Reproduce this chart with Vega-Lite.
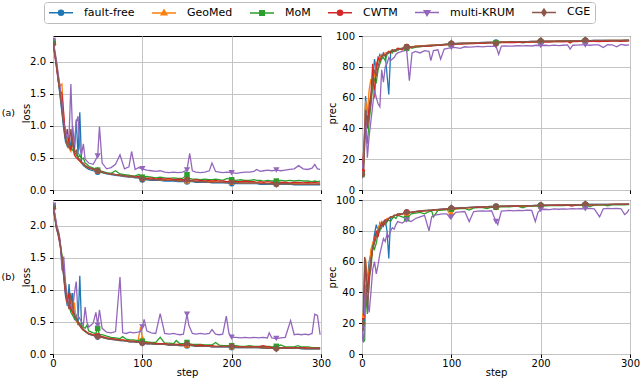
{
"$schema":"https://vega.github.io/schema/vega-lite/v6.json",
"padding":{"left":0,"top":1,"right":0,"bottom":0},
"datasets":{
"aL":[
{"step":0,"ff":2.30,"gm":2.28,"mom":2.31,"cw":2.29,"mk":2.33,"cge":2.27},
{"step":2,"ff":2.12,"gm":2.15,"mom":2.14,"cw":2.10,"mk":2.18,"cge":2.13},
{"step":4,"ff":1.92,"gm":1.98,"mom":1.95,"cw":1.90,"mk":2.00,"cge":1.94},
{"step":6,"ff":1.70,"gm":1.75,"mom":1.72,"cw":1.68,"mk":1.80,"cge":1.72},
{"step":8,"ff":1.45,"gm":1.62,"mom":1.50,"cw":1.55,"mk":1.60,"cge":1.48},
{"step":10,"ff":1.20,"gm":1.65,"mom":1.30,"cw":1.50,"mk":1.35,"cge":1.25},
{"step":12,"ff":0.95,"gm":1.10,"mom":1.05,"cw":1.20,"mk":1.05,"cge":1.00},
{"step":14,"ff":0.75,"gm":0.85,"mom":0.90,"cw":0.80,"mk":0.95,"cge":0.80},
{"step":16,"ff":0.68,"gm":0.70,"mom":0.75,"cw":0.95,"mk":0.80,"cge":0.70},
{"step":18,"ff":0.85,"gm":0.65,"mom":0.70,"cw":0.72,"mk":0.85,"cge":0.66},
{"step":20,"ff":0.62,"gm":0.60,"mom":0.68,"cw":0.62,"mk":1.65,"cge":0.95},
{"step":22,"ff":1.00,"gm":0.75,"mom":0.62,"cw":0.85,"mk":0.85,"cge":0.70},
{"step":24,"ff":0.60,"gm":0.55,"mom":0.58,"cw":0.55,"mk":0.70,"cge":0.58},
{"step":26,"ff":1.10,"gm":0.60,"mom":0.55,"cw":0.50,"mk":1.05,"cge":0.62},
{"step":28,"ff":0.55,"gm":0.48,"mom":0.50,"cw":0.48,"mk":1.15,"cge":0.50},
{"step":30,"ff":1.21,"gm":0.45,"mom":0.55,"cw":0.45,"mk":0.65,"cge":0.48},
{"step":32,"ff":0.42,"gm":0.42,"mom":0.48,"cw":0.42,"mk":0.55,"cge":0.44},
{"step":34,"ff":0.38,"gm":0.40,"mom":0.50,"cw":0.42,"mk":0.72,"cge":0.40},
{"step":36,"ff":0.36,"gm":0.37,"mom":0.42,"cw":0.38,"mk":0.48,"cge":0.38},
{"step":38,"ff":0.34,"gm":0.36,"mom":0.40,"cw":0.36,"mk":0.45,"cge":0.36},
{"step":40,"ff":0.32,"gm":0.34,"mom":0.37,"cw":0.35,"mk":0.42,"cge":0.34},
{"step":45,"ff":0.30,"gm":0.32,"mom":0.34,"cw":0.33,"mk":0.40,"cge":0.32},
{"step":50,"ff":0.28,"gm":0.30,"mom":0.31,"cw":0.30,"mk":0.53,"cge":0.30},
{"step":52,"ff":0.28,"gm":0.29,"mom":0.30,"cw":0.29,"mk":0.99,"cge":0.29},
{"step":55,"ff":0.27,"gm":0.28,"mom":0.29,"cw":0.28,"mk":0.42,"cge":0.28},
{"step":60,"ff":0.25,"gm":0.26,"mom":0.27,"cw":0.26,"mk":0.33,"cge":0.26},
{"step":65,"ff":0.24,"gm":0.25,"mom":0.26,"cw":0.25,"mk":0.35,"cge":0.25},
{"step":70,"ff":0.23,"gm":0.24,"mom":0.30,"cw":0.24,"mk":0.40,"cge":0.24},
{"step":75,"ff":0.22,"gm":0.23,"mom":0.25,"cw":0.23,"mk":0.55,"cge":0.23},
{"step":80,"ff":0.21,"gm":0.22,"mom":0.24,"cw":0.22,"mk":0.33,"cge":0.22},
{"step":85,"ff":0.20,"gm":0.21,"mom":0.23,"cw":0.21,"mk":0.36,"cge":0.21},
{"step":88,"ff":0.20,"gm":0.21,"mom":0.22,"cw":0.22,"mk":0.60,"cge":0.21},
{"step":92,"ff":0.19,"gm":0.20,"mom":0.22,"cw":0.20,"mk":0.32,"cge":0.20},
{"step":96,"ff":0.19,"gm":0.20,"mom":0.24,"cw":0.21,"mk":0.35,"cge":0.19},
{"step":100,"ff":0.16,"gm":0.18,"mom":0.20,"cw":0.19,"mk":0.33,"cge":0.17},
{"step":105,"ff":0.16,"gm":0.18,"mom":0.21,"cw":0.18,"mk":0.31,"cge":0.17},
{"step":110,"ff":0.15,"gm":0.17,"mom":0.20,"cw":0.19,"mk":0.30,"cge":0.16},
{"step":115,"ff":0.15,"gm":0.17,"mom":0.19,"cw":0.17,"mk":0.29,"cge":0.16},
{"step":120,"ff":0.15,"gm":0.16,"mom":0.20,"cw":0.18,"mk":0.30,"cge":0.16},
{"step":125,"ff":0.14,"gm":0.16,"mom":0.19,"cw":0.17,"mk":0.28,"cge":0.15},
{"step":130,"ff":0.14,"gm":0.16,"mom":0.18,"cw":0.18,"mk":0.27,"cge":0.15},
{"step":135,"ff":0.14,"gm":0.15,"mom":0.19,"cw":0.16,"mk":0.28,"cge":0.15},
{"step":140,"ff":0.13,"gm":0.15,"mom":0.18,"cw":0.17,"mk":0.27,"cge":0.14},
{"step":145,"ff":0.13,"gm":0.15,"mom":0.18,"cw":0.16,"mk":0.28,"cge":0.14},
{"step":150,"ff":0.13,"gm":0.14,"mom":0.24,"cw":0.16,"mk":0.31,"cge":0.16},
{"step":153,"ff":0.13,"gm":0.14,"mom":0.18,"cw":0.15,"mk":0.57,"cge":0.14},
{"step":156,"ff":0.13,"gm":0.14,"mom":0.17,"cw":0.15,"mk":0.30,"cge":0.14},
{"step":160,"ff":0.12,"gm":0.14,"mom":0.17,"cw":0.16,"mk":0.28,"cge":0.13},
{"step":165,"ff":0.12,"gm":0.13,"mom":0.16,"cw":0.15,"mk":0.27,"cge":0.13},
{"step":170,"ff":0.12,"gm":0.13,"mom":0.17,"cw":0.14,"mk":0.28,"cge":0.13},
{"step":175,"ff":0.12,"gm":0.13,"mom":0.16,"cw":0.15,"mk":0.30,"cge":0.12},
{"step":178,"ff":0.11,"gm":0.13,"mom":0.16,"cw":0.14,"mk":0.42,"cge":0.12},
{"step":182,"ff":0.11,"gm":0.13,"mom":0.17,"cw":0.15,"mk":0.29,"cge":0.12},
{"step":186,"ff":0.11,"gm":0.12,"mom":0.16,"cw":0.14,"mk":0.28,"cge":0.12},
{"step":190,"ff":0.11,"gm":0.12,"mom":0.15,"cw":0.14,"mk":0.27,"cge":0.12},
{"step":195,"ff":0.11,"gm":0.12,"mom":0.18,"cw":0.13,"mk":0.28,"cge":0.11},
{"step":200,"ff":0.10,"gm":0.12,"mom":0.16,"cw":0.14,"mk":0.27,"cge":0.12},
{"step":205,"ff":0.10,"gm":0.12,"mom":0.15,"cw":0.13,"mk":0.26,"cge":0.11},
{"step":210,"ff":0.10,"gm":0.11,"mom":0.16,"cw":0.13,"mk":0.27,"cge":0.11},
{"step":215,"ff":0.10,"gm":0.11,"mom":0.15,"cw":0.14,"mk":0.28,"cge":0.11},
{"step":220,"ff":0.10,"gm":0.11,"mom":0.15,"cw":0.13,"mk":0.28,"cge":0.11},
{"step":225,"ff":0.10,"gm":0.11,"mom":0.16,"cw":0.13,"mk":0.29,"cge":0.11},
{"step":228,"ff":0.10,"gm":0.11,"mom":0.15,"cw":0.12,"mk":0.32,"cge":0.11},
{"step":232,"ff":0.09,"gm":0.11,"mom":0.15,"cw":0.13,"mk":0.29,"cge":0.10},
{"step":236,"ff":0.09,"gm":0.11,"mom":0.14,"cw":0.12,"mk":0.30,"cge":0.10},
{"step":240,"ff":0.09,"gm":0.10,"mom":0.15,"cw":0.13,"mk":0.31,"cge":0.10},
{"step":245,"ff":0.09,"gm":0.10,"mom":0.14,"cw":0.12,"mk":0.30,"cge":0.10},
{"step":250,"ff":0.09,"gm":0.10,"mom":0.14,"cw":0.12,"mk":0.31,"cge":0.09},
{"step":255,"ff":0.09,"gm":0.10,"mom":0.15,"cw":0.12,"mk":0.30,"cge":0.10},
{"step":260,"ff":0.09,"gm":0.10,"mom":0.14,"cw":0.12,"mk":0.31,"cge":0.10},
{"step":265,"ff":0.09,"gm":0.10,"mom":0.15,"cw":0.11,"mk":0.32,"cge":0.10},
{"step":270,"ff":0.08,"gm":0.10,"mom":0.14,"cw":0.12,"mk":0.33,"cge":0.09},
{"step":275,"ff":0.08,"gm":0.10,"mom":0.15,"cw":0.12,"mk":0.38,"cge":0.09},
{"step":280,"ff":0.08,"gm":0.09,"mom":0.14,"cw":0.11,"mk":0.33,"cge":0.09},
{"step":285,"ff":0.08,"gm":0.10,"mom":0.14,"cw":0.12,"mk":0.32,"cge":0.09},
{"step":290,"ff":0.08,"gm":0.09,"mom":0.13,"cw":0.11,"mk":0.34,"cge":0.09},
{"step":293,"ff":0.08,"gm":0.09,"mom":0.14,"cw":0.12,"mk":0.40,"cge":0.09},
{"step":296,"ff":0.08,"gm":0.09,"mom":0.13,"cw":0.11,"mk":0.33,"cge":0.09},
{"step":299,"ff":0.08,"gm":0.09,"mom":0.14,"cw":0.11,"mk":0.32,"cge":0.09}
],
"aP":[
{"step":0,"ff":10,"gm":11,"mom":10,"cw":12,"mk":9,"cge":10},
{"step":2,"ff":20,"gm":25,"mom":18,"cw":26,"mk":24,"cge":11},
{"step":4,"ff":61,"gm":58,"mom":40,"cw":45,"mk":50,"cge":52},
{"step":6,"ff":45,"gm":50,"mom":30,"cw":40,"mk":21,"cge":42},
{"step":8,"ff":50,"gm":65,"mom":45,"cw":55,"mk":35,"cge":48},
{"step":10,"ff":60,"gm":72,"mom":55,"cw":62,"mk":45,"cge":58},
{"step":12,"ff":70,"gm":65,"mom":68,"cw":82,"mk":55,"cge":72},
{"step":14,"ff":85,"gm":75,"mom":72,"cw":60,"mk":65,"cge":78},
{"step":16,"ff":78,"gm":82,"mom":70,"cw":80,"mk":60,"cge":74},
{"step":18,"ff":85,"gm":84,"mom":78,"cw":86,"mk":56,"cge":80},
{"step":20,"ff":88,"gm":86,"mom":82,"cw":84,"mk":54,"cge":85},
{"step":22,"ff":86,"gm":88,"mom":85,"cw":87,"mk":78,"cge":86},
{"step":24,"ff":89,"gm":87,"mom":86,"cw":88,"mk":70,"cge":88},
{"step":26,"ff":88,"gm":89,"mom":84,"cw":87,"mk":80,"cge":87},
{"step":28,"ff":75,"gm":89,"mom":88,"cw":89,"mk":82,"cge":89},
{"step":30,"ff":62,"gm":90,"mom":89,"cw":90,"mk":86,"cge":89},
{"step":32,"ff":89,"gm":90,"mom":90,"cw":89,"mk":84,"cge":90},
{"step":34,"ff":90,"gm":91,"mom":89,"cw":91,"mk":85,"cge":91},
{"step":36,"ff":91,"gm":90,"mom":91,"cw":90,"mk":86,"cge":90},
{"step":38,"ff":91,"gm":91,"mom":90,"cw":91,"mk":88,"cge":91},
{"step":40,"ff":91,"gm":92,"mom":91,"cw":92,"mk":89,"cge":91},
{"step":45,"ff":92,"gm":92,"mom":92,"cw":91,"mk":90,"cge":92},
{"step":50,"ff":93,"gm":93,"mom":92,"cw":93,"mk":91,"cge":92.5},
{"step":53,"ff":93,"gm":93,"mom":93,"cw":92,"mk":71,"cge":93},
{"step":56,"ff":93,"gm":93,"mom":92,"cw":93,"mk":89,"cge":93},
{"step":60,"ff":93.2,"gm":93.5,"mom":92.8,"cw":93.0,"mk":90,"cge":93.2},
{"step":65,"ff":93.5,"gm":93.6,"mom":93.0,"cw":93.3,"mk":89,"cge":93.4},
{"step":70,"ff":93.7,"gm":93.8,"mom":93.4,"cw":93.2,"mk":90.5,"cge":93.6},
{"step":75,"ff":93.9,"gm":94.0,"mom":93.5,"cw":93.6,"mk":90,"cge":93.8},
{"step":77,"ff":94.0,"gm":94.0,"mom":93.6,"cw":93.5,"mk":84,"cge":93.9},
{"step":80,"ff":94.1,"gm":94.2,"mom":93.8,"cw":93.8,"mk":90.5,"cge":94.0},
{"step":85,"ff":94.3,"gm":94.3,"mom":94.0,"cw":93.9,"mk":91,"cge":94.2},
{"step":88,"ff":94.4,"gm":94.4,"mom":94.1,"cw":94.0,"mk":85,"cge":94.3},
{"step":92,"ff":94.6,"gm":94.5,"mom":94.3,"cw":94.2,"mk":91.5,"cge":94.5},
{"step":96,"ff":94.8,"gm":94.7,"mom":94.5,"cw":94.3,"mk":92,"cge":94.7},
{"step":100,"ff":95.0,"gm":94.8,"mom":94.6,"cw":94.5,"mk":92.5,"cge":95.5},
{"step":105,"ff":95.2,"gm":95.0,"mom":94.8,"cw":94.7,"mk":92.5,"cge":95.1},
{"step":110,"ff":95.3,"gm":95.2,"mom":94.9,"cw":94.8,"mk":92,"cge":95.2},
{"step":115,"ff":95.4,"gm":95.3,"mom":95.0,"cw":94.9,"mk":93,"cge":95.3},
{"step":120,"ff":95.5,"gm":95.4,"mom":95.1,"cw":95.0,"mk":92.8,"cge":95.4},
{"step":125,"ff":95.6,"gm":95.5,"mom":95.2,"cw":95.1,"mk":93,"cge":95.5},
{"step":130,"ff":95.7,"gm":95.6,"mom":95.3,"cw":95.2,"mk":93.2,"cge":95.6},
{"step":135,"ff":95.8,"gm":95.7,"mom":95.3,"cw":95.3,"mk":93,"cge":95.7},
{"step":140,"ff":95.9,"gm":95.8,"mom":95.5,"cw":95.4,"mk":93.3,"cge":95.8},
{"step":145,"ff":96.0,"gm":95.9,"mom":95.6,"cw":95.5,"mk":93.2,"cge":95.9},
{"step":150,"ff":96.0,"gm":96.0,"mom":95.5,"cw":95.5,"mk":93.5,"cge":95.0},
{"step":153,"ff":96.1,"gm":96.0,"mom":95.7,"cw":95.6,"mk":88,"cge":96.0},
{"step":156,"ff":96.1,"gm":96.1,"mom":95.8,"cw":95.7,"mk":93.4,"cge":96.1},
{"step":160,"ff":96.2,"gm":96.1,"mom":95.9,"cw":95.7,"mk":93.6,"cge":96.2},
{"step":165,"ff":96.2,"gm":96.2,"mom":95.8,"cw":95.8,"mk":93.4,"cge":96.2},
{"step":170,"ff":96.3,"gm":96.2,"mom":96.0,"cw":95.7,"mk":93.5,"cge":96.3},
{"step":175,"ff":96.3,"gm":96.3,"mom":96.0,"cw":95.9,"mk":93.8,"cge":96.3},
{"step":180,"ff":96.4,"gm":96.3,"mom":95.6,"cw":95.9,"mk":93.6,"cge":96.4},
{"step":185,"ff":96.4,"gm":96.4,"mom":96.1,"cw":96.0,"mk":93.8,"cge":96.4},
{"step":190,"ff":96.5,"gm":96.4,"mom":96.2,"cw":96.0,"mk":93.5,"cge":96.5},
{"step":195,"ff":96.5,"gm":96.5,"mom":96.2,"cw":96.1,"mk":94.0,"cge":96.5},
{"step":200,"ff":96.6,"gm":96.5,"mom":96.3,"cw":96.1,"mk":93.8,"cge":97.0},
{"step":205,"ff":96.6,"gm":96.5,"mom":96.3,"cw":96.2,"mk":94.0,"cge":96.6},
{"step":210,"ff":96.7,"gm":96.6,"mom":96.3,"cw":96.0,"mk":93.7,"cge":96.7},
{"step":215,"ff":96.7,"gm":96.6,"mom":96.4,"cw":96.3,"mk":94.1,"cge":96.7},
{"step":220,"ff":96.8,"gm":96.7,"mom":96.4,"cw":96.3,"mk":93.8,"cge":96.8},
{"step":225,"ff":96.8,"gm":96.7,"mom":96.5,"cw":96.2,"mk":94.0,"cge":96.8},
{"step":230,"ff":96.8,"gm":96.7,"mom":96.5,"cw":96.4,"mk":94.2,"cge":96.8},
{"step":233,"ff":96.9,"gm":96.8,"mom":96.5,"cw":95.5,"mk":91.5,"cge":96.9},
{"step":236,"ff":96.9,"gm":96.8,"mom":96.6,"cw":96.4,"mk":94.0,"cge":96.9},
{"step":240,"ff":96.9,"gm":96.8,"mom":96.6,"cw":96.4,"mk":94.1,"cge":96.9},
{"step":245,"ff":97.0,"gm":96.9,"mom":96.6,"cw":96.5,"mk":94.3,"cge":97.0},
{"step":250,"ff":97.0,"gm":96.9,"mom":96.7,"cw":96.5,"mk":94.2,"cge":97.6},
{"step":255,"ff":97.0,"gm":96.9,"mom":96.7,"cw":96.5,"mk":94.0,"cge":97.0},
{"step":260,"ff":97.1,"gm":97.0,"mom":96.7,"cw":96.6,"mk":94.3,"cge":97.1},
{"step":265,"ff":97.1,"gm":97.0,"mom":96.8,"cw":96.4,"mk":94.2,"cge":97.1},
{"step":270,"ff":97.1,"gm":97.0,"mom":96.8,"cw":96.6,"mk":92.5,"cge":97.1},
{"step":275,"ff":97.2,"gm":97.1,"mom":96.8,"cw":96.6,"mk":94.4,"cge":97.2},
{"step":280,"ff":97.2,"gm":97.1,"mom":96.9,"cw":96.7,"mk":94.3,"cge":97.2},
{"step":285,"ff":97.2,"gm":97.1,"mom":96.9,"cw":96.7,"mk":93.0,"cge":97.2},
{"step":290,"ff":97.2,"gm":97.1,"mom":96.9,"cw":96.5,"mk":94.5,"cge":97.2},
{"step":295,"ff":97.3,"gm":97.2,"mom":96.9,"cw":96.7,"mk":94.0,"cge":97.3},
{"step":299,"ff":97.3,"gm":97.2,"mom":97.0,"cw":96.8,"mk":94.3,"cge":97.3}
],
"bL":[
{"step":0,"ff":2.30,"gm":2.28,"mom":2.31,"cw":2.29,"mk":2.32,"cge":2.27},
{"step":2,"ff":2.15,"gm":2.18,"mom":2.15,"cw":2.14,"mk":2.20,"cge":2.12},
{"step":4,"ff":1.95,"gm":2.00,"mom":1.98,"cw":1.96,"mk":2.02,"cge":1.95},
{"step":6,"ff":1.85,"gm":1.88,"mom":1.90,"cw":1.84,"mk":1.92,"cge":1.90},
{"step":8,"ff":1.70,"gm":1.75,"mom":1.72,"cw":1.70,"mk":1.78,"cge":1.72},
{"step":10,"ff":1.45,"gm":1.50,"mom":1.55,"cw":1.48,"mk":1.30,"cge":1.50},
{"step":12,"ff":1.20,"gm":1.25,"mom":1.30,"cw":1.22,"mk":1.52,"cge":1.25},
{"step":14,"ff":0.90,"gm":1.00,"mom":1.10,"cw":0.95,"mk":1.10,"cge":1.00},
{"step":16,"ff":0.75,"gm":0.80,"mom":0.85,"cw":0.80,"mk":0.85,"cge":0.85},
{"step":18,"ff":1.09,"gm":0.70,"mom":0.75,"cw":0.95,"mk":0.80,"cge":0.70},
{"step":20,"ff":0.65,"gm":0.90,"mom":0.65,"cw":0.70,"mk":0.75,"cge":0.95},
{"step":22,"ff":0.95,"gm":0.60,"mom":0.60,"cw":0.65,"mk":0.70,"cge":0.75},
{"step":24,"ff":0.55,"gm":0.80,"mom":0.55,"cw":0.60,"mk":0.95,"cge":0.60},
{"step":26,"ff":0.60,"gm":0.50,"mom":0.52,"cw":0.55,"mk":1.13,"cge":0.55},
{"step":28,"ff":0.45,"gm":0.48,"mom":0.50,"cw":0.50,"mk":0.60,"cge":0.48},
{"step":30,"ff":1.22,"gm":0.44,"mom":0.48,"cw":0.45,"mk":0.55,"cge":0.44},
{"step":32,"ff":0.42,"gm":0.40,"mom":0.45,"cw":0.42,"mk":0.50,"cge":0.40},
{"step":34,"ff":0.38,"gm":0.37,"mom":0.42,"cw":0.38,"mk":0.45,"cge":0.37},
{"step":36,"ff":0.35,"gm":0.35,"mom":0.40,"cw":0.36,"mk":0.73,"cge":0.35},
{"step":38,"ff":0.33,"gm":0.33,"mom":0.45,"cw":0.34,"mk":0.50,"cge":0.33},
{"step":40,"ff":0.31,"gm":0.32,"mom":0.36,"cw":0.32,"mk":0.42,"cge":0.31},
{"step":45,"ff":0.29,"gm":0.30,"mom":0.33,"cw":0.30,"mk":0.48,"cge":0.29},
{"step":48,"ff":0.28,"gm":0.29,"mom":0.32,"cw":0.29,"mk":0.65,"cge":0.28},
{"step":50,"ff":0.27,"gm":0.28,"mom":0.40,"cw":0.28,"mk":0.45,"cge":0.27},
{"step":52,"ff":0.27,"gm":0.28,"mom":0.30,"cw":0.27,"mk":0.69,"cge":0.27},
{"step":55,"ff":0.26,"gm":0.27,"mom":0.30,"cw":0.27,"mk":0.40,"cge":0.26},
{"step":60,"ff":0.24,"gm":0.25,"mom":0.28,"cw":0.25,"mk":0.34,"cge":0.24},
{"step":65,"ff":0.23,"gm":0.24,"mom":0.26,"cw":0.24,"mk":0.33,"cge":0.23},
{"step":70,"ff":0.22,"gm":0.23,"mom":0.25,"cw":0.23,"mk":0.35,"cge":0.22},
{"step":75,"ff":0.21,"gm":0.22,"mom":0.24,"cw":0.22,"mk":1.20,"cge":0.21},
{"step":78,"ff":0.21,"gm":0.22,"mom":0.27,"cw":0.22,"mk":0.33,"cge":0.21},
{"step":82,"ff":0.20,"gm":0.21,"mom":0.23,"cw":0.21,"mk":0.32,"cge":0.20},
{"step":86,"ff":0.19,"gm":0.20,"mom":0.22,"cw":0.20,"mk":0.34,"cge":0.19},
{"step":90,"ff":0.19,"gm":0.20,"mom":0.22,"cw":0.20,"mk":0.33,"cge":0.19},
{"step":95,"ff":0.18,"gm":0.19,"mom":0.21,"cw":0.19,"mk":0.34,"cge":0.18},
{"step":98,"ff":0.18,"gm":0.42,"mom":0.22,"cw":0.19,"mk":0.35,"cge":0.20},
{"step":100,"ff":0.17,"gm":0.25,"mom":0.20,"cw":0.18,"mk":0.42,"cge":0.17},
{"step":102,"ff":0.17,"gm":0.20,"mom":0.19,"cw":0.18,"mk":0.54,"cge":0.17},
{"step":105,"ff":0.16,"gm":0.18,"mom":0.19,"cw":0.17,"mk":0.36,"cge":0.16},
{"step":110,"ff":0.16,"gm":0.17,"mom":0.18,"cw":0.17,"mk":0.33,"cge":0.16},
{"step":115,"ff":0.15,"gm":0.17,"mom":0.18,"cw":0.16,"mk":0.32,"cge":0.15},
{"step":120,"ff":0.15,"gm":0.16,"mom":0.26,"cw":0.16,"mk":0.63,"cge":0.15},
{"step":125,"ff":0.15,"gm":0.16,"mom":0.17,"cw":0.16,"mk":0.32,"cge":0.15},
{"step":130,"ff":0.14,"gm":0.15,"mom":0.17,"cw":0.15,"mk":0.31,"cge":0.14},
{"step":135,"ff":0.14,"gm":0.15,"mom":0.16,"cw":0.15,"mk":0.32,"cge":0.14},
{"step":138,"ff":0.14,"gm":0.15,"mom":0.21,"cw":0.15,"mk":0.31,"cge":0.14},
{"step":142,"ff":0.13,"gm":0.14,"mom":0.16,"cw":0.15,"mk":0.30,"cge":0.13},
{"step":146,"ff":0.13,"gm":0.14,"mom":0.16,"cw":0.14,"mk":0.31,"cge":0.13},
{"step":150,"ff":0.13,"gm":0.14,"mom":0.18,"cw":0.14,"mk":0.62,"cge":0.16},
{"step":152,"ff":0.13,"gm":0.14,"mom":0.16,"cw":0.14,"mk":0.45,"cge":0.14},
{"step":156,"ff":0.13,"gm":0.14,"mom":0.15,"cw":0.14,"mk":0.32,"cge":0.13},
{"step":160,"ff":0.12,"gm":0.13,"mom":0.15,"cw":0.13,"mk":0.31,"cge":0.12},
{"step":165,"ff":0.12,"gm":0.13,"mom":0.15,"cw":0.14,"mk":0.32,"cge":0.12},
{"step":170,"ff":0.12,"gm":0.13,"mom":0.14,"cw":0.13,"mk":0.31,"cge":0.12},
{"step":175,"ff":0.12,"gm":0.13,"mom":0.14,"cw":0.13,"mk":0.32,"cge":0.12},
{"step":178,"ff":0.11,"gm":0.12,"mom":0.14,"cw":0.13,"mk":0.38,"cge":0.11},
{"step":182,"ff":0.11,"gm":0.12,"mom":0.18,"cw":0.12,"mk":0.31,"cge":0.11},
{"step":186,"ff":0.11,"gm":0.12,"mom":0.14,"cw":0.12,"mk":0.30,"cge":0.11},
{"step":190,"ff":0.11,"gm":0.12,"mom":0.13,"cw":0.12,"mk":0.31,"cge":0.11},
{"step":194,"ff":0.11,"gm":0.12,"mom":0.13,"cw":0.12,"mk":0.59,"cge":0.11},
{"step":197,"ff":0.11,"gm":0.12,"mom":0.13,"cw":0.12,"mk":0.32,"cge":0.11},
{"step":200,"ff":0.10,"gm":0.11,"mom":0.13,"cw":0.12,"mk":0.26,"cge":0.12},
{"step":205,"ff":0.10,"gm":0.11,"mom":0.13,"cw":0.11,"mk":0.26,"cge":0.10},
{"step":210,"ff":0.10,"gm":0.11,"mom":0.12,"cw":0.11,"mk":0.25,"cge":0.10},
{"step":215,"ff":0.10,"gm":0.11,"mom":0.12,"cw":0.11,"mk":0.26,"cge":0.10},
{"step":220,"ff":0.10,"gm":0.11,"mom":0.13,"cw":0.11,"mk":0.25,"cge":0.10},
{"step":225,"ff":0.10,"gm":0.11,"mom":0.12,"cw":0.11,"mk":0.26,"cge":0.10},
{"step":230,"ff":0.10,"gm":0.10,"mom":0.12,"cw":0.11,"mk":0.25,"cge":0.10},
{"step":235,"ff":0.09,"gm":0.10,"mom":0.12,"cw":0.13,"mk":0.26,"cge":0.10},
{"step":240,"ff":0.09,"gm":0.10,"mom":0.12,"cw":0.11,"mk":0.25,"cge":0.09},
{"step":242,"ff":0.09,"gm":0.10,"mom":0.12,"cw":0.11,"mk":0.33,"cge":0.09},
{"step":245,"ff":0.09,"gm":0.10,"mom":0.11,"cw":0.10,"mk":0.25,"cge":0.09},
{"step":250,"ff":0.09,"gm":0.10,"mom":0.12,"cw":0.10,"mk":0.24,"cge":0.08},
{"step":255,"ff":0.09,"gm":0.10,"mom":0.14,"cw":0.10,"mk":0.25,"cge":0.09},
{"step":260,"ff":0.09,"gm":0.10,"mom":0.11,"cw":0.10,"mk":0.26,"cge":0.09},
{"step":266,"ff":0.09,"gm":0.10,"mom":0.11,"cw":0.10,"mk":0.52,"cge":0.09},
{"step":270,"ff":0.09,"gm":0.10,"mom":0.11,"cw":0.10,"mk":0.30,"cge":0.09},
{"step":274,"ff":0.09,"gm":0.09,"mom":0.13,"cw":0.10,"mk":0.31,"cge":0.09},
{"step":278,"ff":0.08,"gm":0.09,"mom":0.11,"cw":0.10,"mk":0.30,"cge":0.09},
{"step":282,"ff":0.08,"gm":0.09,"mom":0.11,"cw":0.10,"mk":0.31,"cge":0.08},
{"step":286,"ff":0.08,"gm":0.09,"mom":0.11,"cw":0.09,"mk":0.30,"cge":0.08},
{"step":290,"ff":0.08,"gm":0.09,"mom":0.10,"cw":0.09,"mk":0.32,"cge":0.08},
{"step":293,"ff":0.08,"gm":0.09,"mom":0.10,"cw":0.09,"mk":0.62,"cge":0.08},
{"step":296,"ff":0.08,"gm":0.09,"mom":0.10,"cw":0.09,"mk":0.60,"cge":0.08},
{"step":299,"ff":0.08,"gm":0.09,"mom":0.10,"cw":0.09,"mk":0.30,"cge":0.08}
],
"bP":[
{"step":0,"ff":22,"gm":25,"mom":20,"cw":24,"mk":18,"cge":20},
{"step":1,"ff":15,"gm":20,"mom":10,"cw":18,"mk":8,"cge":15},
{"step":2,"ff":25,"gm":30,"mom":8,"cw":28,"mk":10,"cge":40},
{"step":3,"ff":45,"gm":55,"mom":9,"cw":50,"mk":35,"cge":63},
{"step":4,"ff":55,"gm":62,"mom":40,"cw":58,"mk":45,"cge":60},
{"step":6,"ff":48,"gm":45,"mom":26,"cw":40,"mk":35,"cge":30},
{"step":8,"ff":60,"gm":55,"mom":50,"cw":52,"mk":27,"cge":45},
{"step":10,"ff":65,"gm":68,"mom":55,"cw":60,"mk":40,"cge":62},
{"step":12,"ff":70,"gm":72,"mom":70,"cw":68,"mk":55,"cge":68},
{"step":14,"ff":78,"gm":75,"mom":68,"cw":74,"mk":60,"cge":72},
{"step":16,"ff":84,"gm":78,"mom":72,"cw":80,"mk":52,"cge":76},
{"step":18,"ff":80,"gm":82,"mom":78,"cw":76,"mk":58,"cge":80},
{"step":20,"ff":85,"gm":84,"mom":80,"cw":82,"mk":65,"cge":82},
{"step":22,"ff":82,"gm":86,"mom":83,"cw":85,"mk":70,"cge":84},
{"step":24,"ff":86,"gm":84,"mom":85,"cw":83,"mk":75,"cge":86},
{"step":26,"ff":87,"gm":86,"mom":84,"cw":87,"mk":73,"cge":85},
{"step":28,"ff":80,"gm":88,"mom":86,"cw":86,"mk":78,"cge":87},
{"step":30,"ff":62,"gm":88,"mom":87,"cw":88,"mk":76,"cge":88},
{"step":32,"ff":88,"gm":89,"mom":86,"cw":89,"mk":80,"cge":89},
{"step":34,"ff":89,"gm":89,"mom":88,"cw":89,"mk":82,"cge":89},
{"step":36,"ff":90,"gm":90,"mom":89,"cw":90,"mk":81,"cge":90},
{"step":38,"ff":90,"gm":90,"mom":88,"cw":90,"mk":84,"cge":90},
{"step":40,"ff":91,"gm":91,"mom":90,"cw":90,"mk":86,"cge":91},
{"step":45,"ff":91,"gm":91,"mom":89,"cw":91,"mk":85,"cge":91},
{"step":50,"ff":92,"gm":91,"mom":88,"cw":92,"mk":87,"cge":92},
{"step":55,"ff":92,"gm":92,"mom":91,"cw":92,"mk":86,"cge":92},
{"step":60,"ff":92.5,"gm":92.3,"mom":91.5,"cw":92.4,"mk":88,"cge":92.6},
{"step":65,"ff":92.8,"gm":92.6,"mom":92.0,"cw":92.7,"mk":89,"cge":92.9},
{"step":70,"ff":93.0,"gm":92.9,"mom":91,"cw":93.0,"mk":90,"cge":93.2},
{"step":75,"ff":93.3,"gm":93.1,"mom":92.5,"cw":93.2,"mk":80,"cge":93.4},
{"step":78,"ff":93.4,"gm":93.2,"mom":92.8,"cw":93.3,"mk":89,"cge":93.5},
{"step":80,"ff":93.5,"gm":93.4,"mom":89,"cw":93.5,"mk":90,"cge":93.6},
{"step":85,"ff":93.8,"gm":93.6,"mom":93.2,"cw":93.7,"mk":90.5,"cge":93.9},
{"step":90,"ff":94.0,"gm":93.8,"mom":93.5,"cw":93.9,"mk":91,"cge":94.1},
{"step":95,"ff":94.2,"gm":94.0,"mom":93.7,"cw":94.1,"mk":91,"cge":94.3},
{"step":99,"ff":94.4,"gm":90,"mom":93.9,"cw":94.2,"mk":88,"cge":94.5},
{"step":100,"ff":94.5,"gm":92,"mom":94.0,"cw":94.3,"mk":89,"cge":95.0},
{"step":105,"ff":94.7,"gm":94.3,"mom":94.2,"cw":94.5,"mk":92,"cge":94.7},
{"step":110,"ff":94.9,"gm":94.5,"mom":94.4,"cw":94.7,"mk":92.3,"cge":94.9},
{"step":115,"ff":95.0,"gm":94.7,"mom":94.6,"cw":94.9,"mk":92.5,"cge":95.1},
{"step":120,"ff":95.2,"gm":94.9,"mom":93.5,"cw":95.0,"mk":86,"cge":95.2},
{"step":125,"ff":95.3,"gm":95.1,"mom":94.9,"cw":95.2,"mk":92.5,"cge":95.4},
{"step":130,"ff":95.5,"gm":95.2,"mom":95.0,"cw":95.3,"mk":92.8,"cge":95.5},
{"step":135,"ff":95.6,"gm":95.4,"mom":95.1,"cw":95.4,"mk":93,"cge":95.6},
{"step":140,"ff":95.7,"gm":95.5,"mom":94.5,"cw":95.5,"mk":92.8,"cge":95.7},
{"step":145,"ff":95.8,"gm":95.6,"mom":95.3,"cw":95.6,"mk":93,"cge":95.8},
{"step":150,"ff":95.9,"gm":95.7,"mom":95.3,"cw":95.7,"mk":86,"cge":95.5},
{"step":152,"ff":95.9,"gm":95.7,"mom":95.4,"cw":95.7,"mk":84,"cge":95.9},
{"step":156,"ff":96.0,"gm":95.8,"mom":95.5,"cw":95.8,"mk":92.8,"cge":96.0},
{"step":160,"ff":96.0,"gm":95.8,"mom":95.6,"cw":95.9,"mk":93.0,"cge":96.0},
{"step":165,"ff":96.1,"gm":95.9,"mom":95.6,"cw":96.0,"mk":93.2,"cge":96.1},
{"step":170,"ff":96.2,"gm":96.0,"mom":95.8,"cw":96.0,"mk":93.0,"cge":96.2},
{"step":175,"ff":96.2,"gm":96.0,"mom":95.8,"cw":96.1,"mk":93.3,"cge":96.2},
{"step":180,"ff":96.3,"gm":96.1,"mom":95.0,"cw":96.2,"mk":93.1,"cge":96.3},
{"step":185,"ff":96.4,"gm":96.2,"mom":96.0,"cw":96.2,"mk":93.4,"cge":96.4},
{"step":190,"ff":96.4,"gm":96.2,"mom":96.0,"cw":96.3,"mk":93.2,"cge":96.4},
{"step":194,"ff":96.5,"gm":96.3,"mom":96.1,"cw":96.3,"mk":86.0,"cge":96.5},
{"step":197,"ff":96.5,"gm":96.3,"mom":96.1,"cw":96.4,"mk":92.0,"cge":96.5},
{"step":200,"ff":96.6,"gm":96.4,"mom":96.2,"cw":96.4,"mk":93.8,"cge":96.8},
{"step":205,"ff":96.6,"gm":96.4,"mom":96.2,"cw":96.5,"mk":94.0,"cge":96.6},
{"step":210,"ff":96.7,"gm":96.5,"mom":96.3,"cw":96.5,"mk":93.8,"cge":96.7},
{"step":215,"ff":96.7,"gm":96.5,"mom":96.3,"cw":96.6,"mk":94.2,"cge":96.7},
{"step":220,"ff":96.8,"gm":96.6,"mom":96.4,"cw":96.6,"mk":94.0,"cge":96.8},
{"step":225,"ff":96.8,"gm":96.6,"mom":96.4,"cw":96.7,"mk":94.3,"cge":96.8},
{"step":230,"ff":96.9,"gm":96.7,"mom":96.5,"cw":96.7,"mk":94.1,"cge":96.9},
{"step":235,"ff":96.9,"gm":96.7,"mom":96.5,"cw":96.0,"mk":94.4,"cge":96.9},
{"step":240,"ff":97.0,"gm":96.8,"mom":96.5,"cw":96.8,"mk":94.2,"cge":97.0},
{"step":245,"ff":97.0,"gm":96.8,"mom":96.6,"cw":96.8,"mk":94.4,"cge":97.0},
{"step":250,"ff":97.0,"gm":96.8,"mom":96.6,"cw":96.9,"mk":94.3,"cge":97.6},
{"step":255,"ff":97.1,"gm":96.9,"mom":95.8,"cw":96.9,"mk":94.5,"cge":97.1},
{"step":260,"ff":97.1,"gm":96.9,"mom":96.7,"cw":96.9,"mk":94.3,"cge":97.1},
{"step":266,"ff":97.1,"gm":97.0,"mom":96.7,"cw":97.0,"mk":89.0,"cge":97.1},
{"step":270,"ff":97.2,"gm":97.0,"mom":96.8,"cw":97.0,"mk":94.3,"cge":97.2},
{"step":275,"ff":97.2,"gm":97.0,"mom":96.2,"cw":97.0,"mk":94.5,"cge":97.2},
{"step":280,"ff":97.2,"gm":97.1,"mom":96.8,"cw":97.1,"mk":94.4,"cge":97.2},
{"step":285,"ff":97.3,"gm":97.1,"mom":96.9,"cw":97.1,"mk":94.6,"cge":97.3},
{"step":290,"ff":97.3,"gm":97.1,"mom":96.9,"cw":97.1,"mk":94.3,"cge":97.3},
{"step":294,"ff":97.3,"gm":97.2,"mom":96.9,"cw":97.2,"mk":90.5,"cge":97.3},
{"step":297,"ff":97.3,"gm":97.2,"mom":97.0,"cw":97.2,"mk":92.0,"cge":97.3},
{"step":299,"ff":97.4,"gm":97.2,"mom":97.0,"cw":97.2,"mk":94.0,"cge":97.4}
]
},
"columns":2,
"spacing":{"row":10,"column":41},
"bounds":"flush",
"resolve":{"scale":{"color":"shared"},"legend":{"color":"shared"}},
"concat":[
{"width":268,"height":154,
 "title":{"text":"(a)","orient":"left","angle":0,"anchor":"middle","baseline":"middle","fontSize":9.5,"fontWeight":"normal","offset":0,"font":"DejaVu Sans","color":"black"},
 "data":{"name":"aL"},
 "transform":[{"fold":["ff","gm","mom","cw","mk","cge"],"as":["series","v"]}],
 "encoding":{
  "x":{"field":"step","type":"quantitative","scale":{"domain":[0,300],"nice":false,"zero":false},"axis":{"values":[0,100,200,300],"labels":false,"title":null}},
  "y":{"field":"v","type":"quantitative","scale":{"domain":[0,2.4],"nice":false},"axis":{"values":[0,0.5,1,1.5,2],"format":".1f","title":"loss"}},
  "color":{"field":"series","type":"nominal","scale":{"domain":["ff","gm","mom","cw","mk","cge"],"range":["#1f77b4","#ff7f0e","#2ca02c","#d62728","#9467bd","#8c564b"]},
   "legend":{"orient":"none","legendX":-9,"legendY":-34,"direction":"horizontal","columns":6,"title":null,
    "labelExpr":"datum.value=='ff'?'fault-free':datum.value=='gm'?'GeoMed':datum.value=='mom'?'MoM':datum.value=='cw'?'CWTM':datum.value=='mk'?'multi-KRUM':'CGE'",
    "labelFontSize":11,"labelColor":"black","labelFont":"DejaVu Sans","symbolSize":100,"symbolStrokeWidth":1.5,"symbolOffset":7,"labelOffset":17,"columnPadding":14,"padding":4,"strokeColor":"#bbbbbb","cornerRadius":3,"fillColor":"white",
    "encode":{
     "symbols":{"update":{"shape":{"signal":"datum.value=='gm'?'M-2.4,0H2.4M0,-0.6L0.55,0.35L-0.55,0.35Z':datum.value=='mom'?'M-2.4,0H2.4M-0.45,-0.45H0.45V0.45H-0.45Z':datum.value=='mk'?'M-2.4,0H2.4M0,0.6L0.55,-0.35L-0.55,-0.35Z':datum.value=='cge'?'M-2.4,0H2.4M0,-0.65L0.45,0L0,0.65L-0.45,0Z':'M-2.4,0H2.4M-0.5,0A0.5,0.5,0,1,1,0.5,0A0.5,0.5,0,1,1,-0.5,0Z'"},
      "fill":{"signal":"scale('color',datum.value)"},"stroke":{"signal":"scale('color',datum.value)"},"opacity":{"value":1},"strokeWidth":{"value":1.5}}},
     "legend":{"update":{"stroke":{"value":"#bbbbbb"},"fill":{"value":"white"},"strokeWidth":{"value":1},"cornerRadius":{"value":3}}}}}}
 },
 "layer":[
  {"mark":{"type":"line","strokeWidth":1.3,"clip":true}},
  {"transform":[{"filter":"datum.step % 50 == 0 && (datum.series=='ff' || datum.series=='cw')"}],"mark":{"type":"point","shape":"circle","filled":true,"size":36,"opacity":1,"clip":true}},
  {"transform":[{"filter":"datum.step % 50 == 0 && datum.series=='gm'"}],"mark":{"type":"point","shape":"triangle-up","filled":true,"size":36,"opacity":1,"clip":true}},
  {"transform":[{"filter":"datum.step % 50 == 0 && datum.series=='mom'"}],"mark":{"type":"point","shape":"square","filled":true,"size":30,"opacity":1,"clip":true}},
  {"transform":[{"filter":"datum.step % 50 == 0 && datum.series=='mk'"}],"mark":{"type":"point","shape":"triangle-down","filled":true,"size":40,"opacity":1,"clip":true}},
  {"transform":[{"filter":"datum.step % 50 == 0 && datum.series=='cge'"}],"mark":{"type":"point","shape":"diamond","filled":true,"size":50,"opacity":1,"clip":true}}
 ]},
{"width":268,"height":154,
 "data":{"name":"aP"},
 "transform":[{"fold":["ff","gm","mom","cw","mk","cge"],"as":["series","v"]}],
 "encoding":{
  "x":{"field":"step","type":"quantitative","scale":{"domain":[0,300],"nice":false,"zero":false},"axis":{"values":[0,100,200,300],"labels":false,"title":null}},
  "y":{"field":"v","type":"quantitative","scale":{"domain":[0,100],"nice":false},"axis":{"values":[0,20,40,60,80,100],"title":"prec"}},
  "color":{"field":"series","type":"nominal","scale":{"domain":["ff","gm","mom","cw","mk","cge"],"range":["#1f77b4","#ff7f0e","#2ca02c","#d62728","#9467bd","#8c564b"]},"legend":null}
 },
 "layer":[
  {"mark":{"type":"line","strokeWidth":1.3,"clip":true}},
  {"transform":[{"filter":"datum.step % 50 == 0 && (datum.series=='ff' || datum.series=='cw')"}],"mark":{"type":"point","shape":"circle","filled":true,"size":36,"opacity":1,"clip":true}},
  {"transform":[{"filter":"datum.step % 50 == 0 && datum.series=='gm'"}],"mark":{"type":"point","shape":"triangle-up","filled":true,"size":36,"opacity":1,"clip":true}},
  {"transform":[{"filter":"datum.step % 50 == 0 && datum.series=='mom'"}],"mark":{"type":"point","shape":"square","filled":true,"size":30,"opacity":1,"clip":true}},
  {"transform":[{"filter":"datum.step % 50 == 0 && datum.series=='mk'"}],"mark":{"type":"point","shape":"triangle-down","filled":true,"size":40,"opacity":1,"clip":true}},
  {"transform":[{"filter":"datum.step % 50 == 0 && datum.series=='cge'"}],"mark":{"type":"point","shape":"diamond","filled":true,"size":50,"opacity":1,"clip":true}}
 ]},
{"width":268,"height":154,
 "title":{"text":"(b)","orient":"left","angle":0,"anchor":"middle","baseline":"middle","fontSize":9.5,"fontWeight":"normal","offset":0,"font":"DejaVu Sans","color":"black"},
 "data":{"name":"bL"},
 "transform":[{"fold":["ff","gm","mom","cw","mk","cge"],"as":["series","v"]}],
 "encoding":{
  "x":{"field":"step","type":"quantitative","scale":{"domain":[0,300],"nice":false,"zero":false},"axis":{"values":[0,100,200,300],"title":"step"}},
  "y":{"field":"v","type":"quantitative","scale":{"domain":[0,2.4],"nice":false},"axis":{"values":[0,0.5,1,1.5,2],"format":".1f","title":"loss"}},
  "color":{"field":"series","type":"nominal","scale":{"domain":["ff","gm","mom","cw","mk","cge"],"range":["#1f77b4","#ff7f0e","#2ca02c","#d62728","#9467bd","#8c564b"]},"legend":null}
 },
 "layer":[
  {"mark":{"type":"line","strokeWidth":1.3,"clip":true}},
  {"transform":[{"filter":"datum.step % 50 == 0 && (datum.series=='ff' || datum.series=='cw')"}],"mark":{"type":"point","shape":"circle","filled":true,"size":36,"opacity":1,"clip":true}},
  {"transform":[{"filter":"datum.step % 50 == 0 && datum.series=='gm'"}],"mark":{"type":"point","shape":"triangle-up","filled":true,"size":36,"opacity":1,"clip":true}},
  {"transform":[{"filter":"datum.step % 50 == 0 && datum.series=='mom'"}],"mark":{"type":"point","shape":"square","filled":true,"size":30,"opacity":1,"clip":true}},
  {"transform":[{"filter":"datum.step % 50 == 0 && datum.series=='mk'"}],"mark":{"type":"point","shape":"triangle-down","filled":true,"size":40,"opacity":1,"clip":true}},
  {"transform":[{"filter":"datum.step % 50 == 0 && datum.series=='cge'"}],"mark":{"type":"point","shape":"diamond","filled":true,"size":50,"opacity":1,"clip":true}}
 ]},
{"width":268,"height":154,
 "data":{"name":"bP"},
 "transform":[{"fold":["ff","gm","mom","cw","mk","cge"],"as":["series","v"]}],
 "encoding":{
  "x":{"field":"step","type":"quantitative","scale":{"domain":[0,300],"nice":false,"zero":false},"axis":{"values":[0,100,200,300],"title":"step"}},
  "y":{"field":"v","type":"quantitative","scale":{"domain":[0,100],"nice":false},"axis":{"values":[0,20,40,60,80,100],"title":"prec"}},
  "color":{"field":"series","type":"nominal","scale":{"domain":["ff","gm","mom","cw","mk","cge"],"range":["#1f77b4","#ff7f0e","#2ca02c","#d62728","#9467bd","#8c564b"]},"legend":null}
 },
 "layer":[
  {"mark":{"type":"line","strokeWidth":1.3,"clip":true}},
  {"transform":[{"filter":"datum.step % 50 == 0 && (datum.series=='ff' || datum.series=='cw')"}],"mark":{"type":"point","shape":"circle","filled":true,"size":36,"opacity":1,"clip":true}},
  {"transform":[{"filter":"datum.step % 50 == 0 && datum.series=='gm'"}],"mark":{"type":"point","shape":"triangle-up","filled":true,"size":36,"opacity":1,"clip":true}},
  {"transform":[{"filter":"datum.step % 50 == 0 && datum.series=='mom'"}],"mark":{"type":"point","shape":"square","filled":true,"size":30,"opacity":1,"clip":true}},
  {"transform":[{"filter":"datum.step % 50 == 0 && datum.series=='mk'"}],"mark":{"type":"point","shape":"triangle-down","filled":true,"size":40,"opacity":1,"clip":true}},
  {"transform":[{"filter":"datum.step % 50 == 0 && datum.series=='cge'"}],"mark":{"type":"point","shape":"diamond","filled":true,"size":50,"opacity":1,"clip":true}}
 ]}
],
"config":{
 "font":"DejaVu Sans",
 "view":{"stroke":"black","strokeWidth":1},
 "legend":{"strokeColor":"#bbbbbb","fillColor":"white","cornerRadius":3,"padding":4},
 "axis":{"domain":false,"grid":true,"gridColor":"#c4c4c4","gridWidth":1,"tickColor":"black","tickSize":3.5,"tickWidth":1,"labelColor":"black","labelFontSize":10,"labelFlush":false,"labelOverlap":false,"titleColor":"black","titleFontSize":10,"titleFontWeight":"normal"},
 "axisX":{"labelPadding":0.5,"titlePadding":-1},
 "axisY":{"labelPadding":4,"titlePadding":-2}
}
}
